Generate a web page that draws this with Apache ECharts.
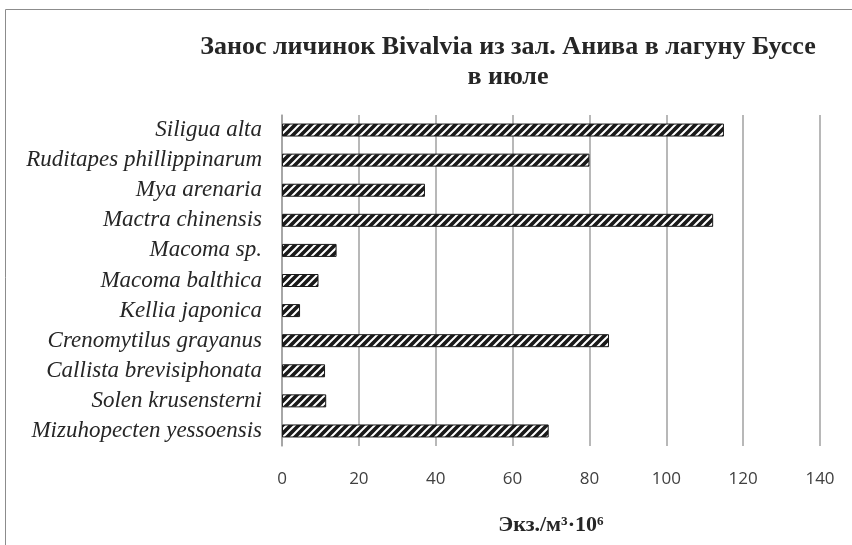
<!DOCTYPE html>
<html>
<head>
<meta charset="utf-8">
<script src="https://cdn.jsdelivr.net/npm/echarts@6/dist/echarts.min.js"></script>
<style>
  html, body { margin: 0; padding: 0; background: #fff; }
  #chart { width: 852px; height: 545px; }
</style>
</head>
<body>
<div id="chart"></div>
<script>
  // species, top to bottom as in the figure
  const species = [
    'Siligua alta',
    'Ruditapes phillippinarum',
    'Mya arenaria',
    'Mactra chinensis',
    'Macoma sp.',
    'Macoma balthica',
    'Kellia japonica',
    'Crenomytilus grayanus',
    'Callista brevisiphonata',
    'Solen krusensterni',
    'Mizuhopecten yessoensis',
  ];
  // larvae density, ind./m3 * 10^6
  const density = [115, 80, 37.2, 112.2, 14.2, 9.5, 4.7, 85.1, 11.2, 11.5, 69.4];

  const serif = 'Liberation Serif';

  // hatched fill like the printed original
  function hatch() {
    const c = document.createElement('canvas');
    c.width = 8;
    c.height = 8;
    const ctx = c.getContext('2d');
    ctx.fillStyle = '#1a1a1a';
    ctx.fillRect(0, 0, 8, 8);
    ctx.strokeStyle = '#ffffff';
    ctx.lineWidth = 2;
    ctx.beginPath();
    ctx.moveTo(-2, 10); ctx.lineTo(10, -2);
    ctx.moveTo(-6, 6); ctx.lineTo(6, -6);
    ctx.moveTo(2, 14); ctx.lineTo(14, 2);
    ctx.stroke();
    return c;
  }

  const myChart = echarts.init(document.getElementById('chart'));

  const option = {
    backgroundColor: '#fff',
    animation: false,
    title: {
      text: 'Занос личинок Bivalvia из зал. Анива в лагуну Буссе\nв июле',
      left: 503,
      top: 27,
      textAlign: 'center',
      textStyle: {
        fontFamily: serif,
        fontWeight: 'bold',
        fontSize: 26,
        lineHeight: 30,
        color: '#262626',
      },
    },
    graphic: [
      {
        type: 'rect',
        shape: { x: 5.5, y: 9.5, width: 900, height: 600 },
        style: { fill: 'none', stroke: '#8c8c8c', lineWidth: 1 },
        silent: true,
      },
    ],
    grid: { left: 282, right: 32, top: 115, bottom: 99 },
    xAxis: {
      type: 'value',
      min: 0,
      max: 140,
      interval: 20,
      name: 'Экз./м³·10⁶',
      nameLocation: 'middle',
      nameGap: 68,
      nameTextStyle: {
        fontFamily: serif,
        fontWeight: 'bold',
        fontSize: 22,
        color: '#262626',
      },
      axisLine: { show: false },
      axisTick: { show: false },
      axisLabel: {
        margin: 25,
        fontFamily: 'Open Sans',
        fontSize: 17,
        color: '#404040',
      },
      splitLine: { lineStyle: { color: '#a0a0a0', width: 1.5 } },
    },
    yAxis: {
      type: 'category',
      inverse: true,
      data: species,
      axisLine: { lineStyle: { color: '#a0a0a0', width: 1.5 } },
      axisTick: { show: false },
      axisLabel: {
        margin: 20,
        fontFamily: serif,
        fontStyle: 'italic',
        fontSize: 23,
        color: '#262626',
      },
    },
    series: [
      {
        type: 'bar',
        data: density,
        barWidth: 13,
        itemStyle: {
          color: { image: hatch(), repeat: 'repeat' },
          borderColor: '#1a1a1a',
          borderWidth: 1,
        },
      },
    ],
  };

  myChart.setOption(option);
</script>
</body>
</html>
